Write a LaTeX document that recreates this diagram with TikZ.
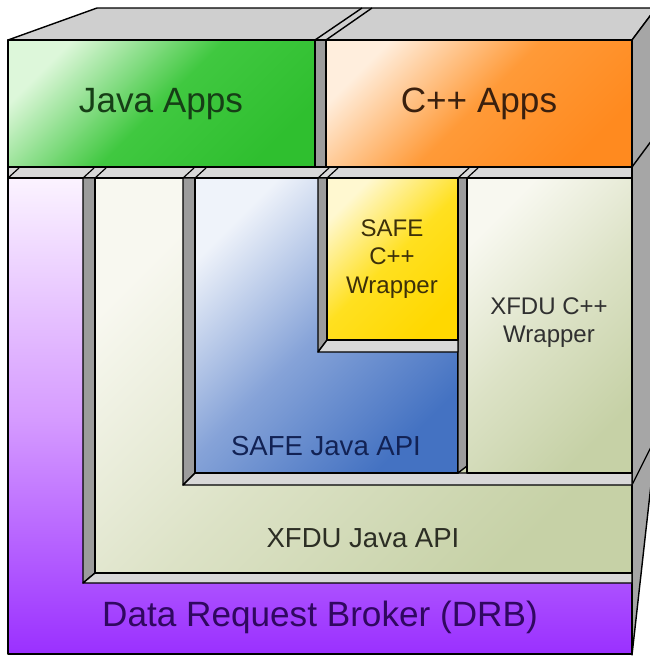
\documentclass[tikz,border=0pt]{standalone}
\usepackage{fontspec}
\setmainfont{Liberation Sans}
\definecolor{topgray}{HTML}{CFCFCF}
\definecolor{sidegray}{HTML}{A6A6A6}
\definecolor{wallgray}{HTML}{9C9C9C}
\definecolor{rimgray}{HTML}{D8D8D8}
\definecolor{javalite}{HTML}{DDF7DA}
\definecolor{javamid}{HTML}{40C840}
\definecolor{javadark}{HTML}{2FBF2F}
\definecolor{cpplite}{HTML}{FFEEDD}
\definecolor{cppmid}{HTML}{FF9A38}
\definecolor{cppdark}{HTML}{FF8A1F}
\definecolor{drblite}{HTML}{FBF3FF}
\definecolor{drbmid}{HTML}{D69CFF}
\definecolor{drbdark}{HTML}{9A30FF}
\definecolor{xfdulite}{HTML}{F8F8F0}
\definecolor{xfdumid}{HTML}{DCE2C6}
\definecolor{xfdudark}{HTML}{C6D1A6}
\definecolor{safelite}{HTML}{EFF3FA}
\definecolor{safemid}{HTML}{86A3D8}
\definecolor{safedark}{HTML}{4472C2}
\definecolor{wraplite}{HTML}{FFF8D0}
\definecolor{wrapmid}{HTML}{FFE020}
\definecolor{wrapdark}{HTML}{FFD800}
\tikzstyle{layer} = [draw, line width=1.2pt]
\tikzstyle{wall} = [draw, fill=wallgray, line width=1.2pt]
\tikzstyle{rim} = [draw, fill=rimgray, line width=1.2pt]
\tikzstyle{javafill} = [top color=javalite, bottom color=javadark, middle color=javamid, shading angle=45]
\tikzstyle{cppfill} = [top color=cpplite, bottom color=cppdark, middle color=cppmid, shading angle=45]
\tikzstyle{drbfill} = [top color=drblite, bottom color=drbdark, middle color=drbmid]
\tikzstyle{xfdufill} = [top color=xfdulite, bottom color=xfdudark, middle color=xfdumid, shading angle=45]
\tikzstyle{safefill} = [top color=safelite, bottom color=safedark, middle color=safemid, shading angle=45]
\tikzstyle{wrapfill} = [top color=wraplite, bottom color=wrapdark, middle color=wrapmid, shading angle=45]
\tikzstyle{biglabel} = [inner sep=0pt, font=\fontsize{30}{36}\selectfont]
\tikzstyle{midlabel} = [inner sep=0pt, font=\fontsize{23.5}{28}\selectfont]
\tikzstyle{smalllabel} = [inner sep=0pt, align=center, font=\fontsize{20.5}{24}\selectfont]
\begin{document}
\begin{tikzpicture}[x=0.03cm,y=-0.03cm,line join=round]
\useasboundingbox (0,0) rectangle (650,658);
\clip (0,0) rectangle (650,658);

% Outer box
\draw[layer,fill=topgray] (8,40) -- (97,8) -- (656,8) -- (632,40) -- cycle;
\draw[layer,fill=sidegray] (632,40) -- (656,8) -- (656,440) -- (632,655) -- cycle;
\draw[line width=1.2pt] (315,40) -- (362,8);
\draw[line width=1.2pt] (326,40) -- (372,8);
\draw[line width=1.2pt] (632,167) -- (652,140);
\draw[line width=1pt] (632,485) -- (652,445);

% Apps row
\draw[layer,javafill] (8,40) rectangle (315,167);
\draw[wall] (315,40) rectangle (326,167);
\draw[layer,cppfill] (326,40) rectangle (632,167);

% Ledge under the apps
\draw[rim] (8,167) rectangle (632,178);
\foreach \x in {8,83,95,183,195,318,327,458,467}
  \draw[line width=1pt] (\x,178) -- +(11,-10);

% Data Request Broker
\draw[layer,drbfill] (8,178) rectangle (632,654);

% XFDU Java API
\draw[wall] (83,178) -- (95,178) -- (95,573) -- (83,583) -- cycle;
\draw[rim] (83,583) -- (95,573) -- (632,573) -- (632,583) -- cycle;
\draw[layer,xfdufill] (95,178) rectangle (632,573);

% SAFE Java API
\draw[wall] (183,178) -- (195,178) -- (195,473) -- (183,485) -- cycle;
\draw[rim] (183,485) -- (195,473) -- (632,473) -- (632,485) -- cycle;
\draw[layer,safefill] (195,178) rectangle (458,473);

% XFDU C++ Wrapper
\draw[wall] (458,178) -- (467,178) -- (467,466) -- (458,473) -- cycle;
\draw[layer,xfdufill] (467,178) rectangle (632,473);

% SAFE C++ Wrapper
\draw[wall] (318,178) -- (327,178) -- (327,340) -- (318,352) -- cycle;
\draw[rim] (318,352) -- (327,340) -- (458,340) -- (458,352) -- cycle;
\draw[layer,wrapfill] (327,178) rectangle (458,340);

% Labels
\node[biglabel,text={rgb,255:red,22;green,62;blue,22}] (java) at (161,104) {Java Apps};
\node[biglabel,text={rgb,255:red,58;green,32;blue,14}] (cpp) at (479,104) {C++ Apps};
\node[biglabel,text={rgb,255:red,48;green,8;blue,96}] (drb) at (320,617) {Data Request Broker (DRB)};
\node[midlabel,text={rgb,255:red,18;green,34;blue,84}] (safejava) at (326,446) {SAFE Java API};
\node[midlabel,text={rgb,255:red,44;green,46;blue,36}] (xfdujava) at (363,538) {XFDU Java API};
\node[smalllabel,text={rgb,255:red,60;green,48;blue,10}] (safecpp) at (392,259) {SAFE\\C++\\Wrapper};
\node[smalllabel,text={rgb,255:red,48;green,48;blue,48}] (xfducpp) at (549,323) {XFDU C++\\Wrapper};

\end{tikzpicture}
\end{document}
